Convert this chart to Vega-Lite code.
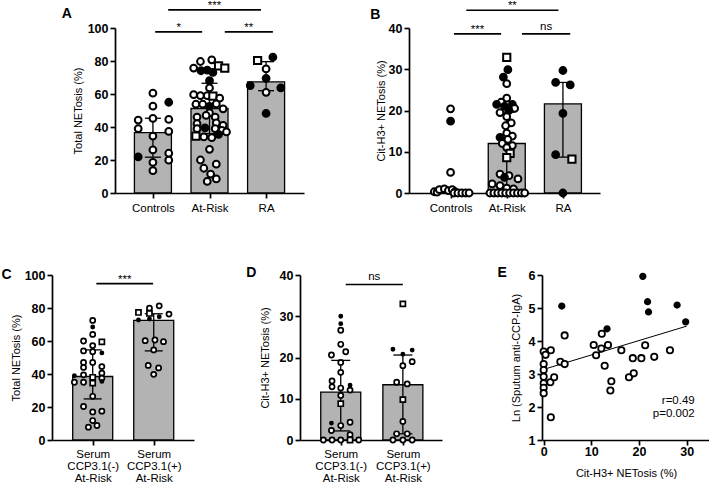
{
  "$schema": "https://vega.github.io/schema/vega-lite/v6.json",
  "padding": {"left": 1, "top": 0, "right": 0, "bottom": 0},
  "background": "white",
  "config": {
    "view": {"stroke": null},
    "font": "Liberation Sans",
    "axis": {"grid": false, "domainColor": "black", "domainWidth": 1.7, "tickColor": "black", "tickWidth": 1.7, "tickSize": 5, "labelColor": "black", "titleColor": "black", "labelFont": "Liberation Sans", "titleFont": "Liberation Sans", "titleFontWeight": "normal", "titleFontSize": 11, "labelFontSize": 11.5, "labelPadding": 2, "labelFlush": false, "labelOverlap": false},
    "axisY": {"labelFontWeight": "bold", "labelFontSize": 12.5},
    "text": {"font": "Liberation Sans", "color": "black"}
  },
  "datasets": {
    "A_sum": [{"x": 1, "y": 36.6}, {"x": 2, "y": 51.2}, {"x": 3, "y": 67.4}],
    "A_err": [{"x": 1, "y": 21.7, "y2": 45.3}, {"x": 2, "y": 36, "y2": 66.5}, {"x": 3, "y": 62, "y2": 79.6}],
    "A_cap": [{"x": 1, "y": 21.7}, {"x": 1, "y": 45.3}, {"x": 2, "y": 36}, {"x": 2, "y": 66.5}, {"x": 3, "y": 62}, {"x": 3, "y": 79.6}],
    "A_br": [{"x": 1.04, "x2": 1.87, "y": 97.6}, {"x": 2.27, "x2": 3.12, "y": 97.6}, {"x": 1.27, "x2": 2.91, "y": 111.0}],
    "A_brt": [{"x": 1.455, "y": 98.1, "s": "*"}, {"x": 2.695, "y": 98.1, "s": "**"}, {"x": 2.09, "y": 111.4, "s": "***"}],
    "A_pts": [
      {"x": 1.0, "y": 60.5, "t": "o"}, {"x": 1.28, "y": 55.0, "t": "f"}, {"x": 1.0, "y": 52.6, "t": "o"}, {"x": 0.74, "y": 44.2, "t": "o"}, {"x": 1.0, "y": 45.2, "t": "o"}, {"x": 1.28, "y": 44.6, "t": "o"}, {"x": 0.74, "y": 39.0, "t": "o"}, {"x": 1.28, "y": 37.3, "t": "o"}, {"x": 1.0, "y": 34.5, "t": "o"}, {"x": 1.0, "y": 26.1, "t": "o"}, {"x": 0.74, "y": 21.9, "t": "f"}, {"x": 1.28, "y": 24.1, "t": "o"}, {"x": 1.28, "y": 19.9, "t": "o"}, {"x": 1.0, "y": 18.5, "t": "o"}, {"x": 1.0, "y": 13.5, "t": "o"},
      {"x": 1.72, "y": 75.7, "t": "o"}, {"x": 1.84, "y": 79.7, "t": "o"}, {"x": 2.04, "y": 80.7, "t": "o"}, {"x": 2.16, "y": 77.1, "t": "s"}, {"x": 2.27, "y": 75.7, "t": "s"}, {"x": 1.85, "y": 74.1, "t": "f"}, {"x": 1.96, "y": 74.5, "t": "f"}, {"x": 2.06, "y": 73.1, "t": "f"}, {"x": 2.0, "y": 68.1, "t": "f"}, {"x": 2.0, "y": 63.7, "t": "o"},
      {"x": 1.72, "y": 59.6, "t": "o"}, {"x": 1.84, "y": 59.0, "t": "o"}, {"x": 1.96, "y": 59.0, "t": "o"}, {"x": 2.06, "y": 58.7, "t": "s"}, {"x": 2.18, "y": 57.5, "t": "o"},
      {"x": 1.76, "y": 53.8, "t": "o"}, {"x": 1.88, "y": 53.8, "t": "o"}, {"x": 2.0, "y": 52.5, "t": "f"}, {"x": 2.12, "y": 54.0, "t": "o"}, {"x": 2.24, "y": 51.0, "t": "o"},
      {"x": 2.0, "y": 48.5, "t": "o"}, {"x": 1.78, "y": 46.0, "t": "o"}, {"x": 1.94, "y": 47.0, "t": "o"}, {"x": 2.1, "y": 46.0, "t": "o"}, {"x": 1.78, "y": 42.0, "t": "o"}, {"x": 2.12, "y": 42.5, "t": "o"}, {"x": 2.24, "y": 41.0, "t": "o"},
      {"x": 1.92, "y": 39.5, "t": "f"}, {"x": 1.78, "y": 39.0, "t": "o"}, {"x": 2.1, "y": 39.0, "t": "o"}, {"x": 2.22, "y": 38.0, "t": "o"}, {"x": 2.3, "y": 37.0, "t": "o"}, {"x": 2.16, "y": 35.5, "t": "f"}, {"x": 1.76, "y": 34.5, "t": "s"}, {"x": 1.9, "y": 34.0, "t": "o"}, {"x": 2.04, "y": 33.5, "t": "o"},
      {"x": 2.0, "y": 26.5, "t": "o"}, {"x": 1.84, "y": 20.0, "t": "o"}, {"x": 2.12, "y": 17.5, "t": "o"}, {"x": 1.9, "y": 15.0, "t": "o"}, {"x": 2.02, "y": 11.5, "t": "o"}, {"x": 2.12, "y": 8.5, "t": "o"}, {"x": 1.96, "y": 7.0, "t": "o"},
      {"x": 2.85, "y": 80.3, "t": "s"}, {"x": 3.12, "y": 82.3, "t": "f"}, {"x": 3.0, "y": 75.2, "t": "o"}, {"x": 3.0, "y": 69.5, "t": "f"}, {"x": 2.72, "y": 65.1, "t": "f"}, {"x": 3.26, "y": 63.7, "t": "f"}, {"x": 3.0, "y": 61.0, "t": "o"}, {"x": 3.0, "y": 48.2, "t": "f"}
    ],
    "B_sum": [{"x": 1, "y": 0}, {"x": 2, "y": 12.0}, {"x": 3, "y": 21.6}],
    "B_err": [{"x": 1, "y": 0, "y2": 0.5}, {"x": 2, "y": 1.3, "y2": 19.6}, {"x": 3, "y": 8.7, "y2": 26.8}],
    "B_cap": [{"x": 1, "y": 0}, {"x": 1, "y": 0.5}, {"x": 2, "y": 1.3}, {"x": 2, "y": 19.6}, {"x": 3, "y": 8.7}, {"x": 3, "y": 26.8}],
    "B_br": [{"x": 1.06, "x2": 1.9, "y": 38.6}, {"x": 2.27, "x2": 3.13, "y": 38.6}, {"x": 1.28, "x2": 2.92, "y": 44.3}],
    "B_brt": [{"x": 1.48, "y": 38.8, "s": "***"}, {"x": 2.7, "y": 39.6, "s": "ns"}, {"x": 2.1, "y": 44.5, "s": "**"}],
    "B_pts": [
      {"x": 1.0, "y": 20.4, "t": "o"}, {"x": 1.0, "y": 17.4, "t": "f"}, {"x": 1.0, "y": 5.0, "t": "o"},
      {"x": 0.71, "y": 0.3, "t": "o"}, {"x": 0.76, "y": 0.2, "t": "o"}, {"x": 0.8, "y": 0.8, "t": "o"}, {"x": 0.89, "y": 1.0, "t": "o"}, {"x": 0.96, "y": 0.6, "t": "o"}, {"x": 1.03, "y": 0.8, "t": "o"}, {"x": 1.08, "y": 0.3, "t": "o"}, {"x": 1.06, "y": 0, "t": "o"}, {"x": 1.13, "y": 0, "t": "o"}, {"x": 1.2, "y": 0, "t": "o"}, {"x": 1.27, "y": 0, "t": "o"}, {"x": 1.33, "y": 0, "t": "o"},
      {"x": 2.0, "y": 32.9, "t": "s"}, {"x": 2.02, "y": 29.9, "t": "f"}, {"x": 1.94, "y": 28.1, "t": "f"}, {"x": 2.0, "y": 26.5, "t": "o"}, {"x": 2.0, "y": 23.0, "t": "o"}, {"x": 1.9, "y": 22.0, "t": "o"}, {"x": 1.82, "y": 21.5, "t": "f"}, {"x": 2.1, "y": 21.5, "t": "f"}, {"x": 1.96, "y": 21.0, "t": "f"}, {"x": 2.14, "y": 20.5, "t": "o"}, {"x": 2.04, "y": 20.0, "t": "f"}, {"x": 1.88, "y": 19.5, "t": "o"}, {"x": 2.0, "y": 18.5, "t": "o"}, {"x": 2.08, "y": 17.0, "t": "o"}, {"x": 1.98, "y": 16.3, "t": "o"}, {"x": 2.0, "y": 14.5, "t": "o"}, {"x": 1.88, "y": 13.5, "t": "f"}, {"x": 2.1, "y": 13.8, "t": "o"}, {"x": 2.02, "y": 13.0, "t": "o"}, {"x": 1.92, "y": 12.0, "t": "o"}, {"x": 2.1, "y": 11.5, "t": "o"}, {"x": 2.0, "y": 11.0, "t": "o"}, {"x": 2.06, "y": 9.6, "t": "s"}, {"x": 2.0, "y": 8.6, "t": "s"},
      {"x": 1.88, "y": 4.6, "t": "o"}, {"x": 2.04, "y": 4.2, "t": "o"}, {"x": 1.96, "y": 3.8, "t": "f"}, {"x": 2.2, "y": 3.4, "t": "o"}, {"x": 1.74, "y": 2.2, "t": "o"}, {"x": 1.88, "y": 1.8, "t": "o"}, {"x": 2.0, "y": 1.2, "t": "o"}, {"x": 2.12, "y": 1.0, "t": "o"},
      {"x": 1.7, "y": 0, "t": "o"}, {"x": 1.77, "y": 0, "t": "o"}, {"x": 1.84, "y": 0, "t": "o"}, {"x": 1.91, "y": 0, "t": "o"}, {"x": 1.98, "y": 0, "t": "o"}, {"x": 2.05, "y": 0, "t": "o"}, {"x": 2.12, "y": 0, "t": "o"}, {"x": 2.19, "y": 0, "t": "o"}, {"x": 2.26, "y": 0, "t": "o"}, {"x": 2.32, "y": 0, "t": "o"},
      {"x": 3.0, "y": 29.7, "t": "f"}, {"x": 2.87, "y": 26.8, "t": "f"}, {"x": 3.13, "y": 26.2, "t": "f"}, {"x": 3.0, "y": 19.3, "t": "f"}, {"x": 2.87, "y": 9.3, "t": "f"}, {"x": 3.16, "y": 8.2, "t": "s"}, {"x": 3.0, "y": 0, "t": "f"}
    ],
    "C_sum": [{"x": 1, "y": 38.5}, {"x": 2, "y": 72.5}],
    "C_err": [{"x": 1, "y": 24.9, "y2": 54.6}, {"x": 2, "y": 54.0, "y2": 76.5}],
    "C_cap": [{"x": 1, "y": 24.9}, {"x": 1, "y": 54.6}, {"x": 2, "y": 54.0}, {"x": 2, "y": 76.5}],
    "C_br": [{"x": 1.06, "x2": 1.99, "y": 94.8}],
    "C_brt": [{"x": 1.525, "y": 95.3, "s": "***"}],
    "C_pts": [
      {"x": 1.0, "y": 72.5, "t": "o"}, {"x": 1.0, "y": 68.5, "t": "f"}, {"x": 1.0, "y": 64.0, "t": "o"}, {"x": 0.85, "y": 60.0, "t": "o"}, {"x": 1.15, "y": 59.5, "t": "s"}, {"x": 1.0, "y": 57.2, "t": "o"}, {"x": 0.85, "y": 54.0, "t": "o"}, {"x": 1.0, "y": 53.5, "t": "o"}, {"x": 1.15, "y": 52.8, "t": "f"},
      {"x": 0.85, "y": 47.0, "t": "o"}, {"x": 1.0, "y": 47.0, "t": "o"}, {"x": 0.85, "y": 44.0, "t": "o"}, {"x": 1.15, "y": 44.5, "t": "o"}, {"x": 1.15, "y": 40.5, "t": "o"}, {"x": 0.85, "y": 39.5, "t": "o"}, {"x": 0.7, "y": 39.0, "t": "f"}, {"x": 1.15, "y": 37.5, "t": "o"}, {"x": 0.7, "y": 35.0, "t": "o"}, {"x": 0.85, "y": 35.0, "t": "o"}, {"x": 1.0, "y": 38.0, "t": "s"}, {"x": 1.0, "y": 34.5, "t": "s"}, {"x": 1.15, "y": 35.5, "t": "f"},
      {"x": 1.0, "y": 26.5, "t": "o"}, {"x": 0.85, "y": 20.3, "t": "o"}, {"x": 1.0, "y": 17.0, "t": "o"}, {"x": 1.15, "y": 17.5, "t": "o"}, {"x": 1.0, "y": 11.8, "t": "o"}, {"x": 0.93, "y": 7.8, "t": "o"}, {"x": 1.07, "y": 8.8, "t": "o"},
      {"x": 1.75, "y": 77.3, "t": "s"}, {"x": 1.93, "y": 79.9, "t": "o"}, {"x": 2.09, "y": 81.3, "t": "o"}, {"x": 1.93, "y": 76.7, "t": "s"}, {"x": 2.25, "y": 76.3, "t": "o"}, {"x": 1.75, "y": 72.7, "t": "f"}, {"x": 1.93, "y": 73.3, "t": "f"}, {"x": 2.09, "y": 74.7, "t": "f"},
      {"x": 1.86, "y": 60.2, "t": "o"}, {"x": 2.02, "y": 60.6, "t": "o"}, {"x": 2.16, "y": 59.6, "t": "o"}, {"x": 2.0, "y": 54.6, "t": "o"}, {"x": 1.91, "y": 45.2, "t": "o"}, {"x": 2.08, "y": 43.7, "t": "o"}, {"x": 2.0, "y": 39.8, "t": "o"}
    ],
    "D_sum": [{"x": 1, "y": 11.6}, {"x": 2, "y": 13.4}],
    "D_err": [{"x": 1, "y": 2.2, "y2": 19.3}, {"x": 2, "y": 1.5, "y2": 20.6}],
    "D_cap": [{"x": 1, "y": 2.2}, {"x": 1, "y": 19.3}, {"x": 2, "y": 1.5}, {"x": 2, "y": 20.6}],
    "D_br": [{"x": 1.08, "x2": 2.0, "y": 37.7}],
    "D_brt": [{"x": 1.54, "y": 38.7, "s": "ns"}],
    "D_pts": [
      {"x": 1.0, "y": 30.0, "t": "f"}, {"x": 1.0, "y": 28.2, "t": "f"}, {"x": 1.0, "y": 26.6, "t": "o"}, {"x": 1.0, "y": 23.2, "t": "o"}, {"x": 1.08, "y": 21.4, "t": "o"}, {"x": 0.85, "y": 20.6, "t": "o"}, {"x": 1.0, "y": 18.8, "t": "o"}, {"x": 1.0, "y": 16.4, "t": "o"},
      {"x": 0.86, "y": 14.3, "t": "o"}, {"x": 0.86, "y": 12.9, "t": "o"}, {"x": 1.0, "y": 12.6, "t": "o"}, {"x": 1.15, "y": 13.3, "t": "f"}, {"x": 1.15, "y": 12.1, "t": "o"}, {"x": 1.0, "y": 10.8, "t": "o"}, {"x": 1.0, "y": 8.8, "t": "s"},
      {"x": 0.85, "y": 4.1, "t": "f"}, {"x": 1.15, "y": 4.3, "t": "o"}, {"x": 1.0, "y": 3.5, "t": "o"}, {"x": 0.85, "y": 2.3, "t": "o"}, {"x": 1.15, "y": 1.3, "t": "o"},
      {"x": 0.72, "y": 0, "t": "o"}, {"x": 0.86, "y": 0, "t": "o"}, {"x": 1.0, "y": 0, "t": "o"}, {"x": 1.15, "y": 0, "t": "s"}, {"x": 1.29, "y": 0, "t": "o"},
      {"x": 2.0, "y": 33.0, "t": "s"}, {"x": 1.84, "y": 22.0, "t": "f"}, {"x": 2.0, "y": 20.8, "t": "f"}, {"x": 2.15, "y": 21.8, "t": "f"}, {"x": 2.0, "y": 18.0, "t": "o"}, {"x": 2.15, "y": 19.0, "t": "o"}, {"x": 1.9, "y": 14.0, "t": "o"}, {"x": 2.07, "y": 13.6, "t": "o"}, {"x": 2.0, "y": 9.8, "t": "s"}, {"x": 2.0, "y": 4.5, "t": "o"}, {"x": 1.9, "y": 1.5, "t": "o"}, {"x": 2.07, "y": 1.5, "t": "o"}, {"x": 1.84, "y": 0, "t": "o"}, {"x": 2.0, "y": 0, "t": "o"}, {"x": 2.15, "y": 0, "t": "o"}
    ],
    "E_pts": [
      {"x": 20.8, "y": 5.96, "t": "f"}, {"x": 3.8, "y": 5.06, "t": "f"}, {"x": 21.8, "y": 5.19, "t": "f"}, {"x": 22.0, "y": 4.88, "t": "f"}, {"x": 28.0, "y": 5.09, "t": "f"}, {"x": 13.3, "y": 4.37, "t": "f"}, {"x": 29.8, "y": 4.58, "t": "f"},
      {"x": 0.0, "y": 3.68, "t": "o"}, {"x": 0.4, "y": 3.58, "t": "o"}, {"x": 0.0, "y": 3.3, "t": "o"}, {"x": 0.0, "y": 3.12, "t": "o"}, {"x": 0.0, "y": 2.92, "t": "o"}, {"x": 0.0, "y": 2.72, "t": "o"}, {"x": 0.0, "y": 2.58, "t": "o"}, {"x": 0.0, "y": 2.42, "t": "o"},
      {"x": 1.5, "y": 3.72, "t": "o"}, {"x": 1.4, "y": 2.75, "t": "o"}, {"x": 2.2, "y": 2.9, "t": "o"}, {"x": 3.5, "y": 3.37, "t": "o"}, {"x": 4.4, "y": 3.3, "t": "o"}, {"x": 4.4, "y": 4.17, "t": "o"}, {"x": 1.5, "y": 1.69, "t": "o"},
      {"x": 10.5, "y": 3.88, "t": "o"}, {"x": 11.0, "y": 3.57, "t": "o"}, {"x": 12.2, "y": 4.22, "t": "o"}, {"x": 12.1, "y": 3.77, "t": "o"}, {"x": 13.5, "y": 3.88, "t": "o"}, {"x": 12.8, "y": 3.25, "t": "o"}, {"x": 14.2, "y": 2.78, "t": "o"}, {"x": 14.0, "y": 2.5, "t": "o"}, {"x": 16.3, "y": 3.72, "t": "o"}, {"x": 17.9, "y": 2.9, "t": "o"}, {"x": 18.9, "y": 3.02, "t": "o"}, {"x": 18.7, "y": 3.48, "t": "o"}, {"x": 20.5, "y": 3.48, "t": "o"}, {"x": 21.3, "y": 3.87, "t": "o"}, {"x": 23.2, "y": 3.52, "t": "o"}, {"x": 26.5, "y": 3.72, "t": "o"}
    ]
  },
  "vconcat": [
    {
      "hconcat": [
        {"width": 63, "height": 165, "data": {"values": [{"x": 0}]}, "mark": {"type": "point", "opacity": 0}, "encoding": {}},
        {
          "width": 189, "height": 165,
          "encoding": {
            "x": {"field": "x", "type": "quantitative", "scale": {"domain": [0.33, 3.67], "nice": false, "zero": false, "padding": 0}, "axis": {"values": [1, 2, 3], "labelExpr": "datum.value == 1 ? 'Controls' : datum.value == 2 ? 'At-Risk' : 'RA'", "title": null, "labelPadding": 4}},
            "y": {"field": "y", "type": "quantitative", "scale": {"domain": [0, 100], "nice": false, "zero": false}, "axis": {"values": [0, 20, 40, 60, 80, 100], "title": "Total NETosis (%)", "titlePadding": 4}}
          },
          "layer": [
            {"data": {"name": "A_sum"}, "mark": {"type": "bar", "orient": "vertical", "width": 37, "fill": "#b3b3b3", "stroke": "black", "strokeWidth": 1.3}},
            {"data": {"name": "A_err"}, "mark": {"type": "rule", "color": "black", "strokeWidth": 1.3}, "encoding": {"y2": {"field": "y2"}}},
            {"data": {"name": "A_cap"}, "mark": {"type": "tick", "orient": "horizontal", "size": 16, "thickness": 1.3, "color": "black", "opacity": 1}},
            {"data": {"name": "A_pts"}, "mark": {"type": "point", "filled": true, "stroke": "black", "strokeWidth": 2, "opacity": 1},
             "encoding": {"shape": {"condition": {"test": "datum.t == 's'", "value": "square"}, "value": "circle"}, "fill": {"condition": {"test": "datum.t == 'f'", "value": "black"}, "value": "white"}, "size": {"condition": {"test": "datum.t == 's'", "value": 52}, "value": 46}}},
            {"data": {"name": "A_br"}, "mark": {"type": "rule", "color": "black", "strokeWidth": 1.7}, "encoding": {"x2": {"field": "x2"}}},
            {"data": {"name": "A_brt"}, "mark": {"type": "text", "fontSize": 11.5, "baseline": "alphabetic", "align": "center"}, "encoding": {"text": {"field": "s"}}},
            {"data": {"values": [{"x": -0.52, "y": 108.7, "s": "A"}]}, "mark": {"type": "text", "fontSize": 14, "fontWeight": "bold", "baseline": "middle", "align": "center"}, "encoding": {"text": {"field": "s"}}}
          ]
        },
        {"width": 105, "height": 165, "data": {"values": [{"x": 0}]}, "mark": {"type": "point", "opacity": 0}, "encoding": {}},
        {
          "width": 191, "height": 165,
          "encoding": {
            "x": {"field": "x", "type": "quantitative", "scale": {"domain": [0.26, 3.66], "nice": false, "zero": false, "padding": 0}, "axis": {"values": [1, 2, 3], "labelExpr": "datum.value == 1 ? 'Controls' : datum.value == 2 ? 'At-Risk' : 'RA'", "title": null, "labelPadding": 4}},
            "y": {"field": "y", "type": "quantitative", "scale": {"domain": [0, 40], "nice": false, "zero": false}, "axis": {"values": [0, 10, 20, 30, 40], "title": "Cit-H3+ NETosis (%)", "titlePadding": 2}}
          },
          "layer": [
            {"data": {"name": "B_sum"}, "mark": {"type": "bar", "orient": "vertical", "width": 37, "fill": "#b3b3b3", "stroke": "black", "strokeWidth": 1.3}},
            {"data": {"name": "B_err"}, "mark": {"type": "rule", "color": "black", "strokeWidth": 1.3}, "encoding": {"y2": {"field": "y2"}}},
            {"data": {"name": "B_cap"}, "mark": {"type": "tick", "orient": "horizontal", "size": 16, "thickness": 1.3, "color": "black", "opacity": 1}},
            {"data": {"name": "B_pts"}, "mark": {"type": "point", "filled": true, "stroke": "black", "strokeWidth": 2, "opacity": 1},
             "encoding": {"shape": {"condition": {"test": "datum.t == 's'", "value": "square"}, "value": "circle"}, "fill": {"condition": {"test": "datum.t == 'f'", "value": "black"}, "value": "white"}, "size": {"condition": {"test": "datum.t == 's'", "value": 52}, "value": 46}}},
            {"data": {"name": "B_br"}, "mark": {"type": "rule", "color": "black", "strokeWidth": 1.7}, "encoding": {"x2": {"field": "x2"}}},
            {"data": {"name": "B_brt"}, "mark": {"type": "text", "fontSize": 11.5, "baseline": "alphabetic", "align": "center"}, "encoding": {"text": {"field": "s"}}},
            {"data": {"values": [{"x": -0.34, "y": 43.2, "s": "B"}]}, "mark": {"type": "text", "fontSize": 14, "fontWeight": "bold", "baseline": "middle", "align": "center"}, "encoding": {"text": {"field": "s"}}}
          ]
        }
      ],
      "spacing": 0,
      "bounds": "flush"
    },
    {
      "hconcat": [
        {
          "width": 142, "height": 165,
          "encoding": {
            "x": {"field": "x", "type": "quantitative", "scale": {"domain": [0.333, 2.66], "nice": false, "zero": false, "padding": 0}, "axis": {"values": [1, 2], "labelExpr": "datum.value == 1 ? ['Serum', 'CCP3.1(-)', 'At-Risk'] : ['Serum', 'CCP3.1(+)', 'At-Risk']", "title": null, "labelPadding": 3, "labelLineHeight": 12.3}},
            "y": {"field": "y", "type": "quantitative", "scale": {"domain": [0, 100], "nice": false, "zero": false}, "axis": {"values": [0, 20, 40, 60, 80, 100], "title": "Total NETosis (%)", "titlePadding": 2.5}}
          },
          "layer": [
            {"data": {"name": "C_sum"}, "mark": {"type": "bar", "orient": "vertical", "width": 40, "fill": "#b3b3b3", "stroke": "black", "strokeWidth": 1.3}},
            {"data": {"name": "C_err"}, "mark": {"type": "rule", "color": "black", "strokeWidth": 1.3}, "encoding": {"y2": {"field": "y2"}}},
            {"data": {"name": "C_cap"}, "mark": {"type": "tick", "orient": "horizontal", "size": 18, "thickness": 1.3, "color": "black", "opacity": 1}},
            {"data": {"name": "C_pts"}, "mark": {"type": "point", "filled": true, "stroke": "black", "strokeWidth": 1.7, "opacity": 1},
             "encoding": {"shape": {"condition": {"test": "datum.t == 's'", "value": "square"}, "value": "circle"}, "fill": {"condition": {"test": "datum.t == 'f'", "value": "black"}, "value": "white"}, "size": {"condition": {"test": "datum.t == 'f'", "value": 10}, "value": 26}}},
            {"data": {"name": "C_br"}, "mark": {"type": "rule", "color": "black", "strokeWidth": 1.7}, "encoding": {"x2": {"field": "x2"}}},
            {"data": {"name": "C_brt"}, "mark": {"type": "text", "fontSize": 11.5, "baseline": "alphabetic", "align": "center"}, "encoding": {"text": {"field": "s"}}},
            {"data": {"values": [{"x": -0.41, "y": 100.2, "s": "C"}]}, "mark": {"type": "text", "fontSize": 14, "fontWeight": "bold", "baseline": "middle", "align": "center"}, "encoding": {"text": {"field": "s"}}}
          ]
        },
        {"width": 106, "height": 165, "data": {"values": [{"x": 0}]}, "mark": {"type": "point", "opacity": 0}, "encoding": {}},
        {
          "width": 142, "height": 165,
          "encoding": {
            "x": {"field": "x", "type": "quantitative", "scale": {"domain": [0.344, 2.63], "nice": false, "zero": false, "padding": 0}, "axis": {"values": [1, 2], "labelExpr": "datum.value == 1 ? ['Serum', 'CCP3.1(-)', 'At-Risk'] : ['Serum', 'CCP3.1(+)', 'At-Risk']", "title": null, "labelPadding": 3, "labelLineHeight": 12.3}},
            "y": {"field": "y", "type": "quantitative", "scale": {"domain": [0, 40], "nice": false, "zero": false}, "axis": {"values": [0, 10, 20, 30, 40], "title": "Cit-H3+ NETosis (%)", "titlePadding": 9}}
          },
          "layer": [
            {"data": {"name": "D_sum"}, "mark": {"type": "bar", "orient": "vertical", "width": 40, "fill": "#b3b3b3", "stroke": "black", "strokeWidth": 1.3}},
            {"data": {"name": "D_err"}, "mark": {"type": "rule", "color": "black", "strokeWidth": 1.3}, "encoding": {"y2": {"field": "y2"}}},
            {"data": {"name": "D_cap"}, "mark": {"type": "tick", "orient": "horizontal", "size": 19, "thickness": 1.3, "color": "black", "opacity": 1}},
            {"data": {"name": "D_pts"}, "mark": {"type": "point", "filled": true, "stroke": "black", "strokeWidth": 1.7, "opacity": 1},
             "encoding": {"shape": {"condition": {"test": "datum.t == 's'", "value": "square"}, "value": "circle"}, "fill": {"condition": {"test": "datum.t == 'f'", "value": "black"}, "value": "white"}, "size": {"condition": {"test": "datum.t == 'f'", "value": 10}, "value": 26}}},
            {"data": {"name": "D_br"}, "mark": {"type": "rule", "color": "black", "strokeWidth": 1.7}, "encoding": {"x2": {"field": "x2"}}},
            {"data": {"name": "D_brt"}, "mark": {"type": "text", "fontSize": 11.5, "baseline": "alphabetic", "align": "center"}, "encoding": {"text": {"field": "s"}}},
            {"data": {"values": [{"x": -0.44, "y": 40.6, "s": "D"}]}, "mark": {"type": "text", "fontSize": 14, "fontWeight": "bold", "baseline": "middle", "align": "center"}, "encoding": {"text": {"field": "s"}}}
          ]
        },
        {"width": 100, "height": 165, "data": {"values": [{"x": 0}]}, "mark": {"type": "point", "opacity": 0}, "encoding": {}},
        {
          "width": 168, "height": 165,
          "encoding": {
            "x": {"field": "x", "type": "quantitative", "scale": {"domain": [-0.35, 34.9], "nice": false, "zero": false}, "axis": {"values": [0, 10, 20, 30], "title": "Cit-H3+ NETosis (%)", "labelFontWeight": "bold", "labelFontSize": 12.5, "labelPadding": 0, "titlePadding": 10}},
            "y": {"field": "y", "type": "quantitative", "scale": {"domain": [1, 6], "nice": false, "zero": false}, "axis": {"values": [1, 2, 3, 4, 5, 6], "title": "Ln (Sputum anti-CCP-IgA)", "titlePadding": 7}}
          },
          "layer": [
            {"data": {"values": [{"x": 0, "y": 3.14, "x2": 30, "y2": 4.45}]}, "mark": {"type": "rule", "color": "black", "strokeWidth": 1}, "encoding": {"x2": {"field": "x2"}, "y2": {"field": "y2"}}},
            {"data": {"name": "E_pts"}, "mark": {"type": "point", "filled": true, "stroke": "black", "strokeWidth": 1.8, "opacity": 1},
             "encoding": {"fill": {"condition": {"test": "datum.t == 'f'", "value": "black"}, "value": "white"}, "size": {"condition": {"test": "datum.t == 'f'", "value": 30}, "value": 40}}},
            {"data": {"values": [{"x": 31.7, "y": 2.17, "s": "r=0.49"}, {"x": 31.7, "y": 1.79, "s": "p=0.002"}]}, "mark": {"type": "text", "fontSize": 11.5, "baseline": "middle", "align": "right"}, "encoding": {"text": {"field": "s"}}},
            {"data": {"values": [{"x": -8.7, "y": 6.06, "s": "E"}]}, "mark": {"type": "text", "fontSize": 14, "fontWeight": "bold", "baseline": "middle", "align": "center"}, "encoding": {"text": {"field": "s"}}}
          ]
        }
      ],
      "spacing": 0,
      "bounds": "flush"
    }
  ],
  "spacing": 51
}
